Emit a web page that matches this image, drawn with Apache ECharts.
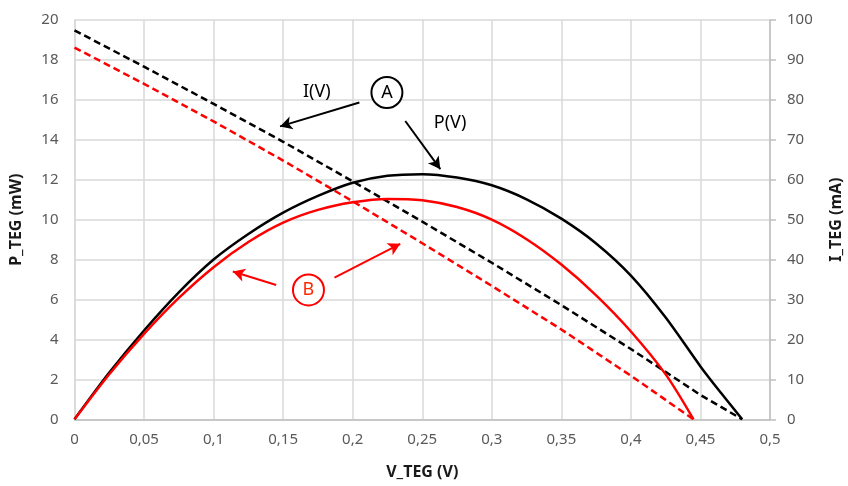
<!DOCTYPE html>
<html>
<head>
<meta charset="utf-8">
<script src="https://cdn.jsdelivr.net/npm/echarts@6/dist/echarts.min.js"></script>
<style>html,body{margin:0;padding:0;background:#fff}#c{width:848px;height:486px}</style>
</head>
<body>
<div id="c"></div>
<script>
// Curve A (black): P(V)
const voltageA = [0, 0.025, 0.05, 0.075, 0.1, 0.125, 0.15, 0.175, 0.2, 0.225, 0.25, 0.275, 0.3, 0.325, 0.35, 0.375, 0.4, 0.425, 0.45, 0.465, 0.48];
const powerA   = [0, 2.34, 4.45, 6.36, 8.0, 9.28, 10.35, 11.19, 11.85, 12.2, 12.28, 12.11, 11.72, 11.02, 10.05, 8.81, 7.2, 5.1, 2.65, 1.3, 0];
// Curve A (black): I(V)
const voltageIA = [0, 0.05, 0.1, 0.15, 0.2, 0.25, 0.3, 0.35, 0.4, 0.45, 0.48];
const currentA = [97.4, 88.3, 79.0, 69.5, 59.6, 49.5, 39.2, 28.6, 17.6, 6.1, 0];
// Curve B (red): P(V)
const voltageB = [0, 0.025, 0.05, 0.075, 0.1, 0.125, 0.15, 0.175, 0.2, 0.225, 0.25, 0.275, 0.3, 0.325, 0.35, 0.375, 0.4, 0.425, 0.445];
const powerB   = [0, 2.26, 4.28, 6.08, 7.62, 8.88, 9.85, 10.49, 10.87, 11.04, 10.97, 10.63, 10.0, 9.02, 7.75, 6.21, 4.4, 2.25, 0];
// Curve B (red): I(V)
const voltageIB = [0, 0.05, 0.1, 0.15, 0.2, 0.25, 0.3, 0.35, 0.4, 0.445];
const currentB = [93.1, 84.0, 74.6, 64.8, 54.6, 44.1, 33.4, 22.5, 10.9, 0];

const xTicks = {min: 0, max: 0.5, interval: 0.05};
const pTicks = {min: 0, max: 20, interval: 2};
const iTicks = {min: 0, max: 100, interval: 10};

const xName = 'V_TEG (V)';
const pName = 'P_TEG (mW)';
const iName = 'I_TEG (mA)';

// annotation content (in V / P_TEG coordinates)
const labelsText = ['I(V)', 'P(V)'];
const labelPos = [[0.1742, 16.42], [0.270, 14.84]];
const circleText = ['A', 'B'];
const circlePos = [[0.2246, 16.37], [0.1682, 6.48]];
const arrowsA = [[[0.2048, 15.87], [0.1478, 14.67]], [[0.2378, 14.94], [0.263, 12.53]]];
const arrowsB = [[[0.145, 6.73], [0.1138, 7.40]], [[0.1869, 7.10], [0.2342, 8.79]]];

const pairs = (xs, ys) => xs.map((x, i) => [x, ys[i]]);
const FONT = 'Noto Sans';
const fmt = v => String(+(+v).toFixed(2)).replace('.', ',');

const chart = echarts.init(document.getElementById('c'), null, {renderer: 'canvas'});

function arrowLines(list) {
  return list.map(a => [
    {coord: a[0], symbol: 'none'},
    {coord: a[1], symbol: 'arrow'}
  ]);
}

chart.setOption({
  animation: false,
  backgroundColor: '#fff',
  grid: {left: 74.5, right: 78, top: 20, bottom: 66.7, containLabel: false, outerBoundsMode: 'none'},
  xAxis: {
    type: 'value', min: xTicks.min, max: xTicks.max, interval: xTicks.interval,
    name: xName, nameLocation: 'middle', nameGap: 45,
    nameTextStyle: {fontFamily: FONT, fontWeight: 'bold', fontSize: 16, color: '#1a1a1a'},
    axisLine: {show: true, onZero: false, lineStyle: {color: '#bfbfbf', width: 1.5}},
    axisTick: {show: false},
    axisLabel: {formatter: fmt, fontFamily: FONT, fontSize: 15, color: '#595959', margin: 13},
    splitLine: {show: true, lineStyle: {color: '#d9d9d9', width: 1.5}}
  },
  yAxis: [{
    type: 'value', position: 'left', min: pTicks.min, max: pTicks.max, interval: pTicks.interval,
    name: pName, nameLocation: 'middle', nameGap: 50, nameRotate: 90,
    nameTextStyle: {fontFamily: FONT, fontWeight: 'bold', fontSize: 16, color: '#1a1a1a'},
    axisLine: {show: true, lineStyle: {color: '#d9d9d9', width: 1.5}},
    axisTick: {show: false},
    axisLabel: {fontFamily: FONT, fontSize: 15, color: '#595959', margin: 16},
    splitLine: {show: true, lineStyle: {color: '#d9d9d9', width: 1.5}}
  }, {
    type: 'value', position: 'right', min: iTicks.min, max: iTicks.max, interval: iTicks.interval,
    name: iName, nameLocation: 'middle', nameGap: 58, nameRotate: 90,
    nameTextStyle: {fontFamily: FONT, fontWeight: 'bold', fontSize: 16, color: '#1a1a1a'},
    axisLine: {show: true, lineStyle: {color: '#bfbfbf', width: 1.5}},
    axisTick: {show: true, length: 6, inside: false, lineStyle: {color: '#bfbfbf', width: 1.5}},
    axisLabel: {fontFamily: FONT, fontSize: 15, color: '#595959', margin: 17},
    splitLine: {show: false}
  }],
  series: [
    {
      name: 'I A', type: 'line', yAxisIndex: 1, data: pairs(voltageIA, currentA),
      showSymbol: false, smooth: false,
      lineStyle: {color: '#000', width: 2.5, type: [7, 4]}, z: 3
    },
    {
      name: 'I B', type: 'line', yAxisIndex: 1, data: pairs(voltageIB, currentB),
      showSymbol: false, smooth: false,
      lineStyle: {color: '#ff0000', width: 2.5, type: [7, 4]}, z: 3
    },
    {
      name: 'P A', type: 'line', yAxisIndex: 0, data: pairs(voltageA, powerA),
      showSymbol: false, smooth: 0.3,
      lineStyle: {color: '#000', width: 2.5}, z: 4,
      markLine: {
        silent: true, animation: false, symbolSize: [10, 12],
        label: {show: false},
        lineStyle: {color: '#000', width: 2, type: 'solid'},
        emphasis: {disabled: true},
        data: arrowLines(arrowsA)
      },
      markPoint: {
        silent: true, animation: false,
        data: [
          {coord: labelPos[0], symbol: 'rect', symbolSize: 1, itemStyle: {color: 'rgba(0,0,0,0)'},
           label: {show: true, position: 'inside', formatter: labelsText[0], color: '#000', fontFamily: FONT, fontSize: 18}},
          {coord: labelPos[1], symbol: 'rect', symbolSize: 1, itemStyle: {color: 'rgba(0,0,0,0)'},
           label: {show: true, position: 'inside', formatter: labelsText[1], color: '#000', fontFamily: FONT, fontSize: 18}},
          {coord: circlePos[0], symbol: 'circle', symbolSize: 31,
           itemStyle: {color: '#fff', borderColor: '#000', borderWidth: 2},
           label: {show: true, position: 'inside', formatter: circleText[0], color: '#000', fontFamily: FONT, fontSize: 18}}
        ]
      }
    },
    {
      name: 'P B', type: 'line', yAxisIndex: 0, data: pairs(voltageB, powerB),
      showSymbol: false, smooth: 0.3,
      lineStyle: {color: '#ff0000', width: 2.5}, z: 4,
      markLine: {
        silent: true, animation: false, symbolSize: [10, 12],
        label: {show: false},
        lineStyle: {color: '#ff0000', width: 2, type: 'solid'},
        emphasis: {disabled: true},
        data: arrowLines(arrowsB)
      },
      markPoint: {
        silent: true, animation: false,
        data: [
          {coord: circlePos[1], symbol: 'circle', symbolSize: 31,
           itemStyle: {color: '#fff', borderColor: '#ff0000', borderWidth: 2},
           label: {show: true, position: 'inside', formatter: circleText[1], color: '#ff2a00', fontFamily: FONT, fontSize: 18}}
        ]
      }
    }
  ]
});
</script>
</body>
</html>
